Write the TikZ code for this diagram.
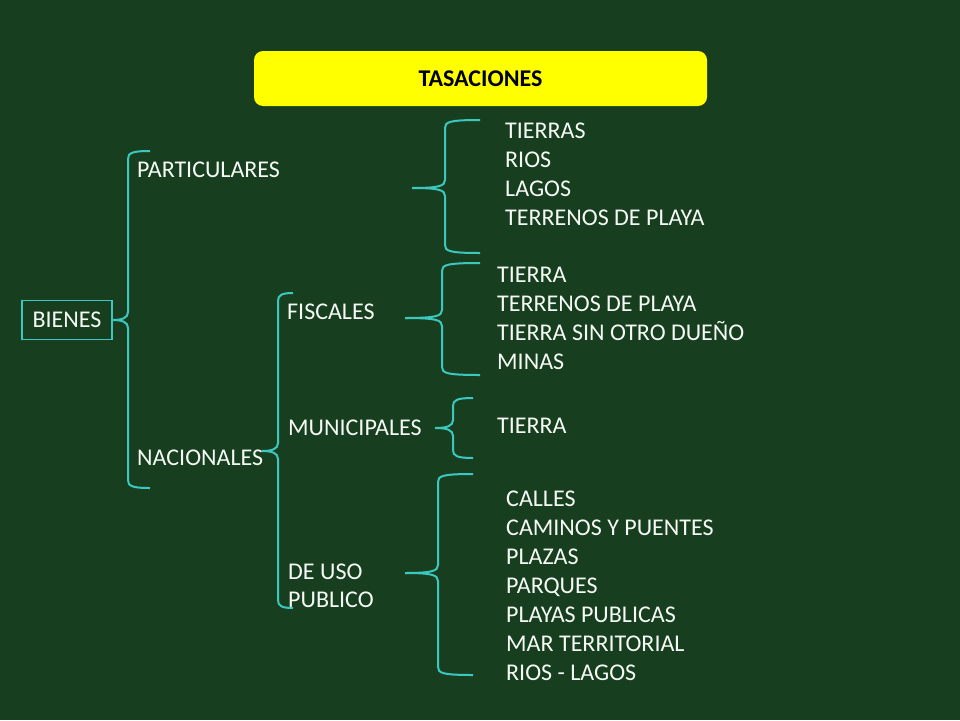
\documentclass[tikz,border=0pt]{standalone}
\usepackage{fontspec}
\setmainfont{Carlito}
\definecolor{fondo}{RGB}{24,62,32}
\definecolor{turquesa}{RGB}{60,200,190}
\definecolor{amarillo}{RGB}{255,255,0}
\definecolor{letra}{RGB}{245,250,245}

\tikzset{
  item/.style={anchor=base west,inner sep=0pt,text=letra,font=\fontsize{24}{29}\selectfont},
  llave/.style={draw=turquesa,line width=2pt},
}

% llave: punta, lomo x, brazo x, punta y, arriba y, abajo y
\newcommand{\llave}[6]{%
  \draw[llave] (#1) .. controls (#2-6,#4) and (#2,#4-2) .. (#2,#4-8) -- (#2,#5+8)
    .. controls (#2,#5+2) and (#2+4,#5) .. (#3,#5);
  \draw[llave] (#1) .. controls (#2-6,#4) and (#2,#4+2) .. (#2,#4+8) -- (#2,#6-8)
    .. controls (#2,#6-2) and (#2+4,#6) .. (#3,#6);
}

\begin{document}
\begin{tikzpicture}[x=1pt,y=-1pt]

  \fill[fondo] (0,0) rectangle (960,720);
  \useasboundingbox (0,0) rectangle (960,720);

  \node[fill=amarillo,rounded corners=9pt,minimum width=453pt,minimum height=55pt,
    font=\bfseries\fontsize{24}{29}\selectfont] (tasaciones) at (480.5,78.5) {TASACIONES};

  \node[draw=turquesa,line width=1.2pt,minimum width=90pt,minimum height=39pt,inner sep=0pt,
    text=letra,font=\fontsize{24}{29}\selectfont] (bienes) at (67,320) {BIENES};

  \node[item] (particulares) at (137,177) {PARTICULARES};
  \node[item] (nacionales)   at (137,465) {NACIONALES};
  \node[item] (fiscales)     at (287,319) {FISCALES};
  \node[item] (municipales)  at (288,435) {MUNICIPALES};
  \node[item,align=left,font=\fontsize{24}{28}\selectfont] (deuso) at (288,607) {DE USO\\PUBLICO};

  \foreach \t [count=\i from 0] in {TIERRAS,RIOS,LAGOS,TERRENOS DE PLAYA}
    \node[item] (part\i) at (505,138+29*\i) {\t};
  \foreach \t [count=\i from 0] in {TIERRA,TERRENOS DE PLAYA,TIERRA SIN OTRO DUEÑO,MINAS}
    \node[item] (fisc\i) at (497,282+29*\i) {\t};
  \node[item] (muni0) at (497,433) {TIERRA};
  \foreach \t [count=\i from 0] in {CALLES,CAMINOS Y PUENTES,PLAZAS,PARQUES,PLAYAS PUBLICAS,MAR TERRITORIAL,RIOS - LAGOS}
    \node[item] (uso\i) at (506,506+29*\i) {\t};

  \coordinate (pNac)  at (262,451);
  \coordinate (pPart) at (412,188);
  \coordinate (pFisc) at (405,318);
  \coordinate (pMuni) at (435,428);
  \coordinate (pUso)  at (405,573);

  \llave{bienes.east}{128}{150}{320}{151}{488}
  \llave{pNac}{278}{293}{451}{293}{608}
  \llave{pPart}{445}{480}{188}{120}{253}
  \llave{pFisc}{442}{480}{318}{263}{375}
  \llave{pMuni}{453}{473}{428}{398}{458}
  \llave{pUso}{438}{473}{573}{474}{675}

\end{tikzpicture}
\end{document}
